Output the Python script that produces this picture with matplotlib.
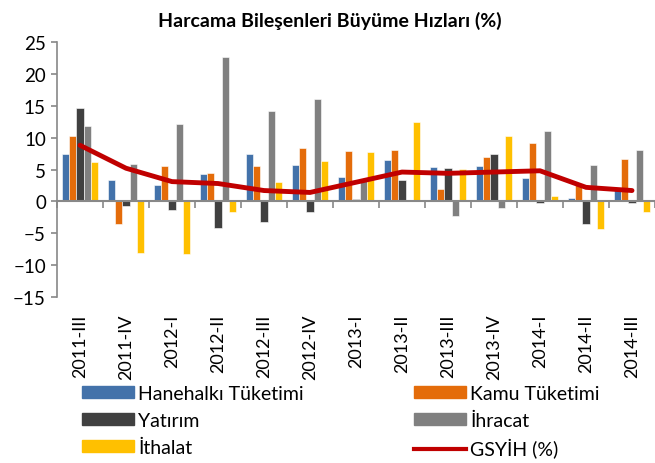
import matplotlib
matplotlib.use("Agg")
from matplotlib import pyplot as plt
from matplotlib.patches import Patch
from matplotlib.lines import Line2D
import numpy as np

plt.rcParams['font.family'] = ['Lato', 'DejaVu Sans']

quarters = ["2011-III", "2011-IV", "2012-I", "2012-II", "2012-III", "2012-IV",
            "2013-I", "2013-II", "2013-III", "2013-IV", "2014-I", "2014-II", "2014-III"]

hanehalki = [7.4, 3.3, 2.5, 4.3, 7.4, 5.7, 3.8, 6.5, 5.4, 5.6, 3.6, 0.6, 1.8]
kamu = [10.3, -3.6, 5.6, 4.4, 5.5, 8.4, 7.9, 8.1, 2.0, 6.9, 9.2, 2.5, 6.6]
yatirim = [14.6, -0.7, -1.3, -4.1, -3.2, -1.6, 0.3, 3.4, 5.3, 7.4, -0.2, -3.5, -0.3]
ihracat = [11.9, 5.9, 12.1, 22.7, 14.1, 16.1, 3.2, 0.1, -2.3, -1.1, 11.1, 5.7, 8.0]
ithalat = [6.1, -8.1, -8.3, -1.6, 3.0, 6.4, 7.8, 12.4, 5.1, 10.3, 0.8, -4.4, -1.7]
gsyih = [8.8, 5.2, 3.1, 2.8, 1.7, 1.4, 3.0, 4.6, 4.4, 4.6, 4.8, 2.2, 1.7]

series = [("Hanehalkı Tüketimi", hanehalki, "#4372AA"),
          ("Kamu Tüketimi", kamu, "#E46C0A"),
          ("Yatırım", yatirim, "#404040"),
          ("İhracat", ihracat, "#808080"),
          ("İthalat", ithalat, "#FFC000")]

fig = plt.figure(figsize=(6.55, 4.64), dpi=100)
ax = fig.add_axes([57 / 655, 1 - 298 / 464, 598 / 655, 255 / 464])

x = np.arange(len(quarters))
w = 0.154
for i, (name, vals, col) in enumerate(series):
    ax.bar(x + (i - 2) * w, vals, width=w, color=col, edgecolor='white', linewidth=0.4)

ax.plot(x, gsyih, color="#C00000", linewidth=3.5, solid_capstyle='round')

ax.set_xlim(-0.5, len(quarters) - 0.5)
ax.set_ylim(-15, 25)
ax.set_yticks(range(-15, 26, 5))
ax.tick_params(axis='y', labelsize=13.5, color='#888888', length=4, width=1.2, pad=4)

for s in ['top', 'right']:
    ax.spines[s].set_visible(False)
ax.spines['left'].set_color('#888888')
ax.spines['left'].set_linewidth(1.2)
ax.spines['bottom'].set_position(('data', 0))
ax.spines['bottom'].set_color('#888888')
ax.spines['bottom'].set_linewidth(1.5)

# tick marks at category boundaries on the zero line
ax.set_xticks(x)
ax.set_xticklabels([])
ax.tick_params(axis='x', which='major', length=0)
ax.set_xticks(np.arange(len(quarters) + 1) - 0.5, minor=True)
ax.tick_params(axis='x', which='minor', length=5, width=1.2, color='#888888', direction='out')

sec = ax.secondary_xaxis(0)
sec.set_xticks(x)
sec.set_xticklabels(quarters, rotation=90, fontsize=13)
sec.tick_params(length=0, pad=12)
sec.spines['bottom'].set_visible(False)

fig.text(0.503, 0.955, "Harcama Bileşenleri Büyüme Hızları (%)", ha='center', va='center',
         fontsize=14, fontweight='bold')

left_h = [Patch(color=series[0][2]), Patch(color=series[2][2]), Patch(color=series[4][2])]
left_l = [series[0][0], series[2][0], series[4][0]]
right_h = [Patch(color=series[1][2]), Patch(color=series[3][2]),
           Line2D([], [], color="#C00000", linewidth=3)]
right_l = [series[1][0], series[3][0], "GSYİH (%)"]

for handles, labels, x0 in [(left_h, left_l, 82 / 655), (right_h, right_l, 414 / 655)]:
    fig.legend(handles, labels, loc='upper left', bbox_to_anchor=(x0, 1 - 386 / 464),
               frameon=False, fontsize=14, handlelength=2.65, handleheight=0.55,
               handletextpad=0.25, labelspacing=0.5, borderaxespad=0, borderpad=0)

fig.savefig("out.png", dpi=100)
